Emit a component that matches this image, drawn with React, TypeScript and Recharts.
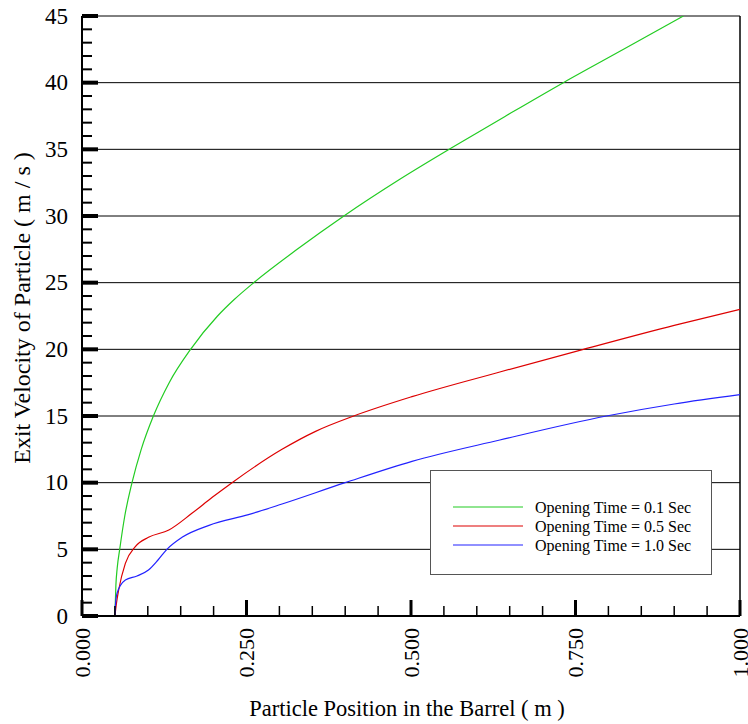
import { Label, Legend, Line, LineChart, ReferenceLine, XAxis, YAxis } from "recharts";

const FONT = "'Liberation Serif', 'Times New Roman', serif";

// particle position (m) / exit velocity (m/s)
const greenPos = [0.05, 0.0515, 0.0535, 0.0573, 0.065, 0.076, 0.09, 0.1085, 0.1325, 0.165, 0.206, 0.2305, 0.261, 0.327, 0.398, 0.483, 0.558, 0.644, 0.7315, 0.823, 0.914];
const greenVel = [0, 2.3, 3.6, 5, 7.5, 10, 12.5, 15, 17.5, 20, 22.5, 23.7, 25, 27.5, 30, 32.75, 35, 37.5, 40, 42.5, 45];

const redPos = [0.05, 0.0525, 0.0557, 0.0659, 0.081, 0.101, 0.132, 0.167, 0.198, 0.228, 0.304, 0.355, 0.413, 0.5015, 0.635, 0.762, 0.9, 1.0];
const redVel = [0, 1.0, 1.95, 3.95, 5.2, 5.9, 6.45, 7.7, 8.9, 10, 12.5, 13.85, 15, 16.45, 18.3, 20, 21.8, 23.0];

const bluePos = [0.05, 0.0508, 0.0532, 0.0659, 0.0836, 0.101, 0.1155, 0.129, 0.152, 0.193, 0.253, 0.304, 0.4, 0.5015, 0.635, 0.797, 0.9, 1.0];
const blueVel = [0, 0.8, 1.7, 2.7, 3.0, 3.45, 4.2, 5, 5.9, 6.8, 7.6, 8.4, 10, 11.6, 13.2, 15, 15.9, 16.6];

const seriesNames = ["Opening Time = 0.1 Sec", "Opening Time = 0.5 Sec", "Opening Time = 1.0 Sec"];
const seriesColors = ["#22cc22", "#dd0000", "#2222ff"];

const xMajorTicks = [0, 0.25, 0.5, 0.75, 1];
const xTickLabels = ["0.000", "0.250", "0.500", "0.750", "1.000"];
const xTicks = Array.from({ length: 21 }, (_, i) => i * 0.05);
const yMajorTicks = [0, 5, 10, 15, 20, 25, 30, 35, 40, 45];
const yTicks = Array.from({ length: 46 }, (_, i) => i);
const gridValues = [5, 10, 15, 20, 25, 30, 35, 40, 45];

const toRows = (pos: number[], vel: number[]) => pos.map((x, i) => ({ x, v: vel[i] }));
const series = [
  toRows(greenPos, greenVel),
  toRows(redPos, redVel),
  toRows(bluePos, blueVel),
];

function XTick(props: any) {
  const { x, y, payload } = props;
  const idx = xMajorTicks.findIndex((v) => Math.abs(v - payload.value) < 1e-6);
  const major = idx >= 0;
  return (
    <g>
      <line x1={x} x2={x} y1={y} y2={y - (major ? 16 : 10)} stroke="#000" strokeWidth={major ? 3 : 1.5} />
      {major && (
        <text
          x={x}
          y={y + 12}
          transform={`rotate(-90 ${x} ${y + 12})`}
          textAnchor="end"
          dominantBaseline="central"
          fontFamily={FONT}
          fontSize={22}
          fill="#000"
        >
          {xTickLabels[idx]}
        </text>
      )}
    </g>
  );
}

function YTick(props: any) {
  const { x, y, payload } = props;
  const major = yMajorTicks.includes(payload.value);
  return (
    <g>
      <line x1={x} x2={x + (major ? 16 : 10)} y1={y} y2={y} stroke="#000" strokeWidth={major ? 4 : 2} />
      {major && (
        <text x={x - 14} y={y} textAnchor="end" dominantBaseline="central" fontFamily={FONT} fontSize={23} fill="#000">
          {payload.value}
        </text>
      )}
    </g>
  );
}

function LegendBox() {
  return (
    <div
      style={{
        width: 282,
        height: 105,
        boxSizing: "border-box",
        border: "1.5px solid #555",
        background: "#fff",
        position: "relative",
      }}
    >
      <svg width={280} height={102} style={{ position: "absolute", left: 0, top: 0 }}>
        {seriesNames.map((name, i) => (
          <g key={name}>
            <line x1={22} x2={92} y1={36 + i * 19} y2={36 + i * 19} stroke={seriesColors[i]} strokeWidth={1.2} />
            <text x={104} y={36 + i * 19} dominantBaseline="central" fontFamily={FONT} fontSize={16} fill="#000">
              {name}
            </text>
          </g>
        ))}
      </svg>
    </div>
  );
}

export default function App() {
  return (
    <div style={{ position: "absolute", left: 0, top: 0, background: "#fff" }}>
      <LineChart width={748} height={724} margin={{ top: 16, right: 8, bottom: 0, left: 0 }}>
        {gridValues.map((v) => (
          <ReferenceLine key={v} y={v} stroke="#000" strokeWidth={1} />
        ))}
        <ReferenceLine x={1} stroke="#000" strokeWidth={1.5} />
        <XAxis
          dataKey="x"
          type="number"
          domain={[0, 1]}
          ticks={xTicks}
          interval={0}
          height={108}
          tickSize={0}
          tickMargin={0}
          tick={<XTick />}
          axisLine={{ stroke: "#000", strokeWidth: 2 }}
          allowDataOverflow
        >
          <Label
            content={() => (
              <text x={407} y={716} textAnchor="middle" fontFamily={FONT} fontSize={22.5} fill="#000">
                Particle Position in the Barrel ( m )
              </text>
            )}
          />
        </XAxis>
        <YAxis
          type="number"
          domain={[0, 45]}
          ticks={yTicks}
          interval={0}
          width={82}
          tickSize={0}
          tickMargin={0}
          tick={<YTick />}
          axisLine={{ stroke: "#000", strokeWidth: 2 }}
          allowDataOverflow
        >
          <Label
            content={() => (
              <text
                x={22}
                y={308}
                transform="rotate(-90 22 308)"
                textAnchor="middle"
                dominantBaseline="central"
                fontFamily={FONT}
                fontSize={24}
                fill="#000"
              >
                Exit Velocity of Particle ( m / s )
              </text>
            )}
          />
        </YAxis>
        <Legend
          layout="vertical"
          align="center"
          verticalAlign="middle"
          content={() => <LegendBox />}
          wrapperStyle={{ position: "absolute", left: 430, top: 470, width: 282, height: 105 }}
        />
        {series.map((rows, i) => (
          <Line
            key={seriesNames[i]}
            data={rows}
            dataKey="v"
            name={seriesNames[i]}
            type="monotone"
            stroke={seriesColors[i]}
            strokeWidth={1.2}
            dot={false}
            activeDot={false}
            isAnimationActive={false}
          />
        ))}
      </LineChart>
    </div>
  );
}
